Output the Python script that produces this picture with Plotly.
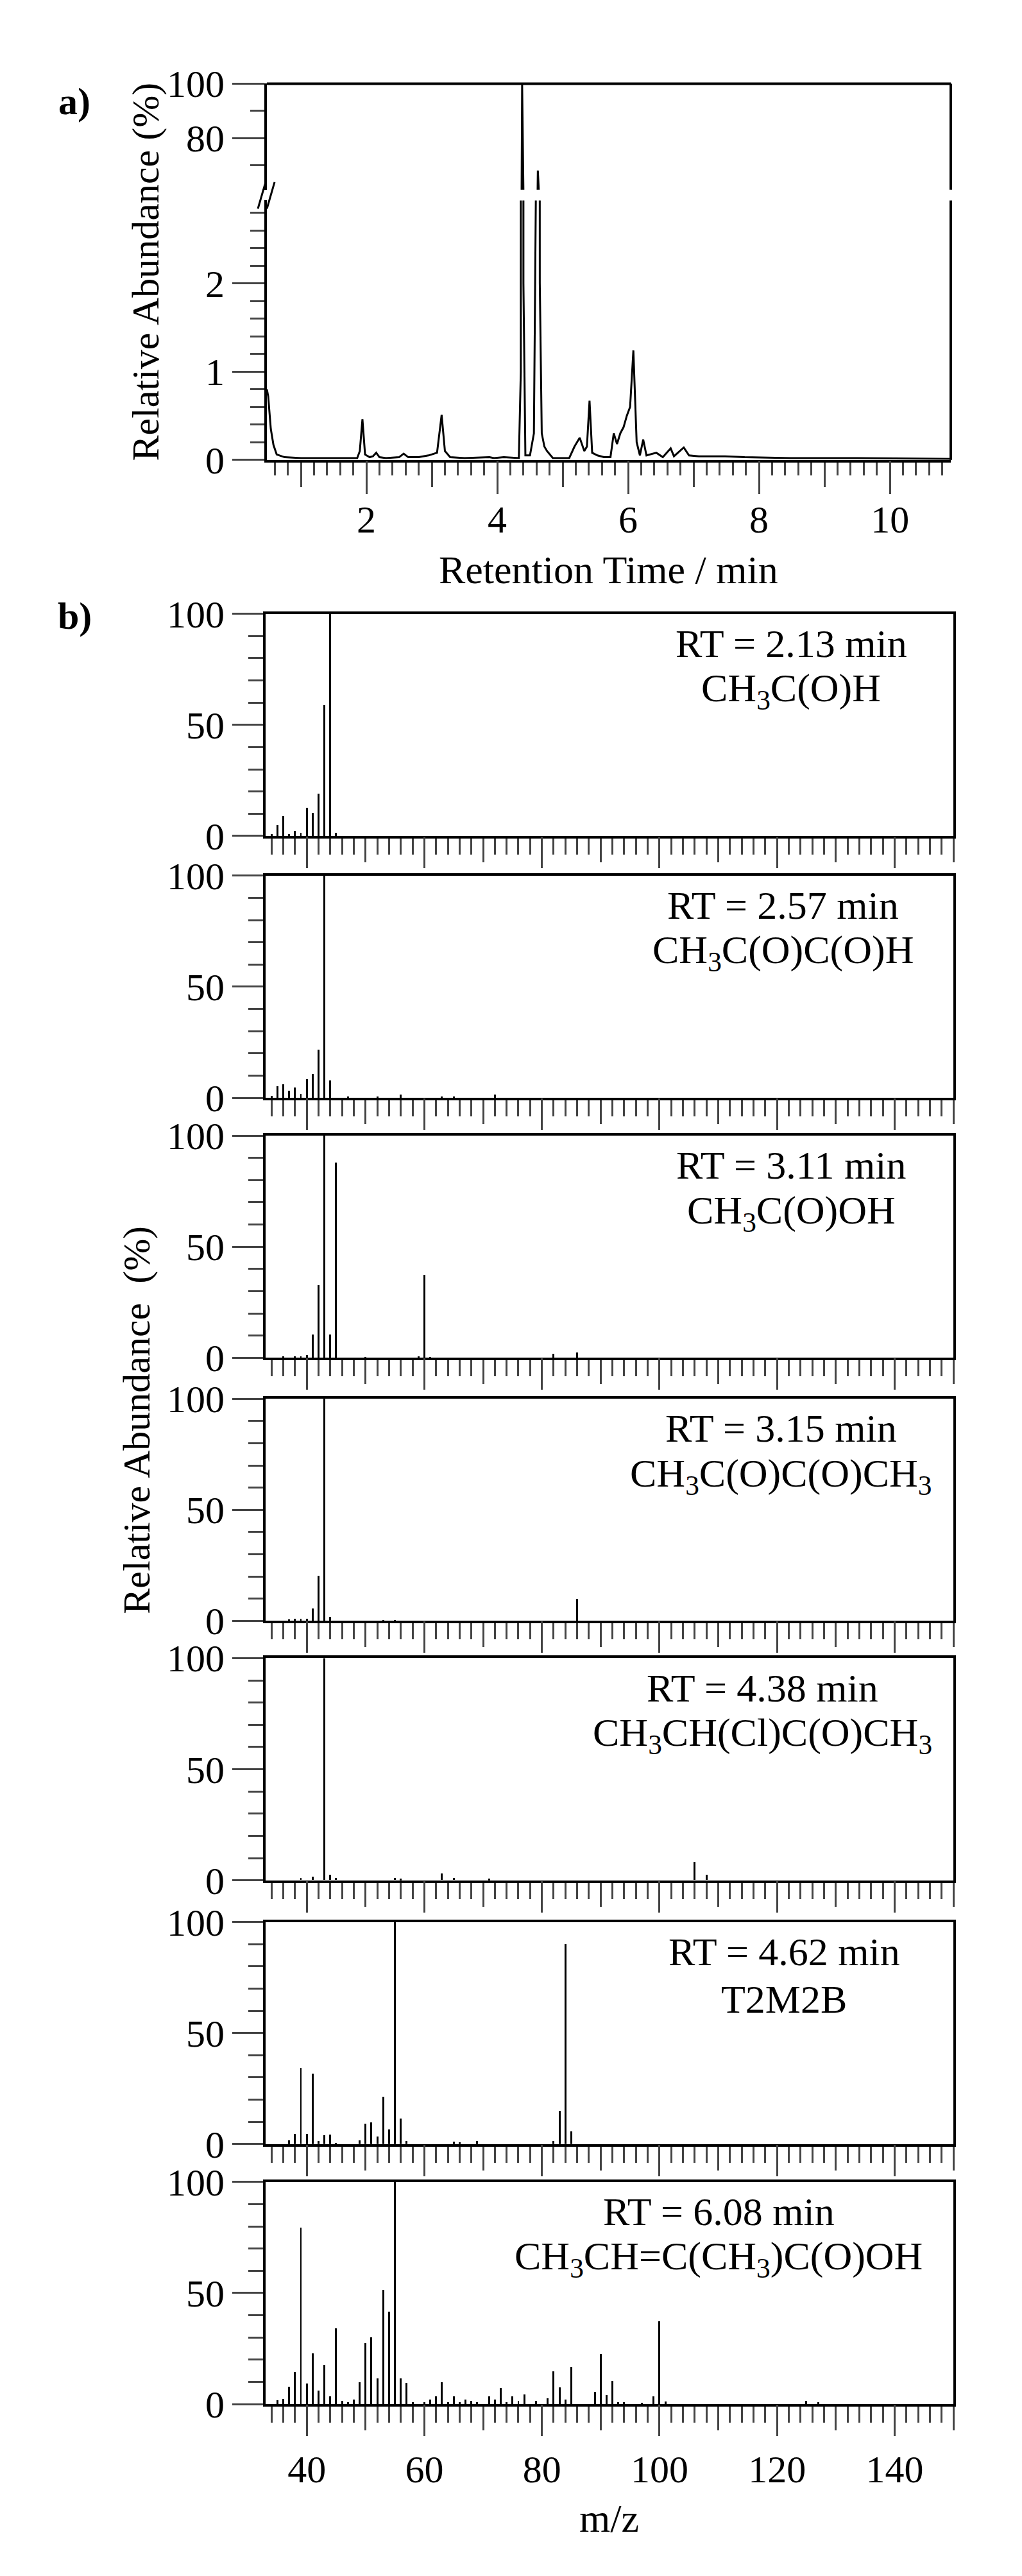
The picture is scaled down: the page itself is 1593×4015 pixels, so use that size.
import plotly.graph_objects as go

W, H = 1593, 4015
FONT = "Liberation Serif"

# chromatogram (panel a)
rt_time = [0.48, 0.50, 0.54, 0.58, 0.63, 0.75, 1.0, 1.5, 1.86, 1.90, 1.94, 1.98, 2.05, 2.10, 2.15, 2.20,
           2.30, 2.50, 2.57, 2.64, 2.80, 2.95, 3.00, 3.08, 3.15, 3.20, 3.28, 3.50, 3.88, 3.95, 4.10, 4.33,
           4.36, 4.38, 4.40, 4.43, 4.50, 4.56, 4.59, 4.62, 4.65, 4.68, 4.72, 4.76, 4.85, 5.10, 5.18, 5.26,
           5.33, 5.37, 5.41, 5.45, 5.53, 5.63, 5.73, 5.78, 5.83, 5.88, 5.93, 5.98, 6.03, 6.08, 6.13, 6.18,
           6.23, 6.28, 6.43, 6.53, 6.65, 6.70, 6.85, 6.93, 7.08, 7.48, 7.78, 8.48, 9.5, 10.93]
rt_abund = [0.80, 0.72, 0.35, 0.17, 0.06, 0.03, 0.02, 0.02, 0.02, 0.10, 0.46, 0.06, 0.03, 0.04, 0.08, 0.03,
            0.02, 0.03, 0.07, 0.03, 0.03, 0.05, 0.06, 0.08, 0.51, 0.10, 0.03, 0.02, 0.03, 0.02, 0.03, 0.02,
            1.0, 100, 2.0, 0.05, 0.05, 0.3, 3.0, 68, 2.0, 0.30, 0.15, 0.10, 0.02, 0.02, 0.15, 0.25,
            0.10, 0.15, 0.67, 0.08, 0.05, 0.03, 0.03, 0.30, 0.18, 0.30, 0.37, 0.50, 0.60, 1.24, 0.20, 0.05,
            0.23, 0.05, 0.08, 0.03, 0.13, 0.04, 0.14, 0.05, 0.04, 0.04, 0.03, 0.02, 0.02, 0.01]

# mass spectra (panel b)
rt_labels = ["RT = 2.13 min", "RT = 2.57 min", "RT = 3.11 min", "RT = 3.15 min",
             "RT = 4.38 min", "RT = 4.62 min", "RT = 6.08 min"]
names = ["CH<sub>3</sub>C(O)H", "CH<sub>3</sub>C(O)C(O)H", "CH<sub>3</sub>C(O)OH",
         "CH<sub>3</sub>C(O)C(O)CH<sub>3</sub>", "CH<sub>3</sub>CH(Cl)C(O)CH<sub>3</sub>",
         "T2M2B", "CH<sub>3</sub>CH=C(CH<sub>3</sub>)C(O)OH"]

mz1 = [34, 35, 36, 37, 38, 39, 40, 41, 42, 43, 44, 45]
ab1 = [1, 5, 9, 1, 2.5, 1.5, 12.8, 10.5, 19, 59, 100, 1.5]
mz2 = [34, 35, 36, 37, 38, 39, 40, 41, 42, 43, 44, 47, 52, 56, 63, 65, 72]
ab2 = [1, 5.4, 6, 3.2, 4.6, 1.7, 8.3, 10.7, 21.7, 100, 7.8, 0.5, 0.5, 1.5, 0.5, 0.5, 1.5]
mz3 = [36, 38, 39, 40, 41, 42, 43, 44, 45, 50, 59, 60, 61, 82, 86]
ab3 = [0.5, 0.5, 0.5, 1.3, 10.5, 32.6, 100, 10.5, 88, 0.3, 0.5, 37.2, 0.3, 1.8, 2.5]
mz4 = [37, 38, 39, 40, 41, 42, 43, 44, 53, 55, 86]
ab4 = [0.6, 0.8, 0.8, 0.8, 5.6, 20.2, 100, 1.9, 0.4, 0.4, 9.8]
mz5 = [39, 41, 43, 44, 45, 55, 56, 63, 65, 71, 106, 108]
ab5 = [1, 1.5, 100, 2.3, 1, 1, 0.5, 3, 1, 0.5, 8.1, 2.3]
mz6 = [37, 38, 39, 40, 41, 42, 43, 44, 45, 49, 50, 51, 52, 53, 54, 55, 56, 57, 65, 66, 69, 82, 83, 84, 85]
ab6 = [1.9, 4.8, 34.3, 4.8, 31.8, 1.5, 4, 4.4, 0.5, 1.9, 9.2, 9.9, 3.4, 21.3, 6.7, 100, 11.5, 1.5,
       1.3, 1, 1.5, 1.5, 15, 90.2, 5.8]
mz7 = [35, 36, 37, 38, 39, 40, 41, 42, 43, 44, 45, 46, 47, 48, 49, 50, 51, 52, 53, 54, 55, 56, 57, 58,
       60, 61, 62, 63, 64, 65, 66, 67, 68, 69, 71, 72, 73, 74, 75, 76, 77, 79, 81, 82, 83, 84, 85, 89,
       90, 91, 92, 93, 94, 97, 99, 100, 101, 125, 127]
ab7 = [1.7, 2.5, 7.9, 14.5, 79.4, 9.4, 23, 6, 17.8, 3.5, 34.2, 1.5, 1, 2, 10, 27.5, 30, 11.7, 51.6, 41.6,
       100, 11.7, 9.7, 1, 1, 2, 3.4, 10, 1, 3.5, 1, 2, 1.5, 1, 3.5, 2, 7.2, 1, 3.6, 1.5, 4.4, 1.5, 2.8,
       14.8, 7.5, 2, 16.9, 5.5, 22.5, 4, 10.5, 1, 1, 0.5, 3.5, 37.3, 1.2, 1.5, 1]
spectra = [(mz1, ab1), (mz2, ab2), (mz3, ab3), (mz4, ab4), (mz5, ab5), (mz6, ab6), (mz7, ab7)]


def px(x):
    return x / W


def py(y):
    return 1 - y / H


def label(text, x, y, size=62, angle=0):
    return dict(text=text, x=px(x), y=py(y), xref="paper", yref="paper", xanchor="center",
                yanchor="middle", textangle=angle, showarrow=False,
                font=dict(size=size, family=FONT, color="black"))


fig = go.Figure()
LW = 4
tickfont = dict(family=FONT, size=60, color="black")
layout = dict(width=W, height=H, margin=dict(l=0, r=0, t=0, b=0),
              plot_bgcolor="white", paper_bgcolor="white", showlegend=False,
              font=dict(family=FONT, color="black"), bargap=0)
shapes, annotations = [], []

# ---- panel a ----
XL, XR = 408, 1474
a_xrange = [0.48, 10.93]
layout["xaxis"] = dict(domain=[px(XL), px(XR)], range=a_xrange, anchor="y", showline=True,
                       linewidth=LW, linecolor="black", ticks="outside", ticklen=38, tickwidth=3,
                       dtick=1, tick0=0, showticklabels=False, showgrid=False, zeroline=False,
                       minor=dict(ticks="outside", ticklen=20, tickwidth=3, dtick=0.2, tick0=0))
layout["xaxis2"] = dict(overlaying="x", anchor="y", range=a_xrange, ticks="outside", ticklen=52,
                        tickwidth=3, dtick=2, tick0=0, tickfont=tickfont, showgrid=False,
                        zeroline=False, showline=False, ticklabelstandoff=-12)
layout["yaxis"] = dict(domain=[py(688), py(277)], range=[0, 2.94], anchor="x", showline=True,
                       linewidth=LW, linecolor="black", ticks="outside", ticklen=50, tickwidth=3,
                       dtick=1, tickfont=tickfont, showgrid=False, zeroline=False,
                       minor=dict(ticks="outside", ticklen=22, tickwidth=3, dtick=0.2))
layout["yaxis2"] = dict(domain=[py(260), py(92)], range=[60.9, 100], anchor="x", showline=True,
                        linewidth=LW, linecolor="black", ticks="outside", ticklen=50, tickwidth=3,
                        tickvals=[80, 100], tickfont=tickfont, showgrid=False, zeroline=False,
                        minor=dict(ticks="outside", ticklen=22, tickwidth=3, tickvals=[70, 90]))
fig.add_trace(go.Scatter(x=rt_time, y=rt_abund, mode="lines", line=dict(color="black", width=3),
                         xaxis="x", yaxis="y"))
fig.add_trace(go.Scatter(x=rt_time, y=rt_abund, mode="lines", line=dict(color="black", width=3),
                         xaxis="x", yaxis="y2"))
# invisible copy so the overlay tick axis is drawn
fig.add_trace(go.Scatter(x=rt_time, y=rt_abund, mode="markers", marker=dict(opacity=0),
                         hoverinfo="skip", xaxis="x2", yaxis="y"))
# frame: top line, right line with break
shapes.append(dict(type="line", xref="paper", yref="paper", x0=px(XL), x1=px(XR), y0=py(92), y1=py(92),
                   line=dict(color="black", width=LW)))
shapes.append(dict(type="line", xref="paper", yref="paper", x0=px(XR), x1=px(XR), y0=py(92), y1=py(260),
                   line=dict(color="black", width=LW)))
shapes.append(dict(type="line", xref="paper", yref="paper", x0=px(XR), x1=px(XR), y0=py(277), y1=py(688),
                   line=dict(color="black", width=LW)))
for dx in (-8, 6):
    shapes.append(dict(type="line", xref="paper", yref="paper", x0=px(XL + dx - 6), x1=px(XL + dx + 6),
                       y0=py(290), y1=py(248), line=dict(color="black", width=3)))
annotations.append(label("<b>a)</b>", 108, 120, 60))
annotations.append(label("Relative Abundance (%)", 219, 390, 60, -90))
annotations.append(label("Retention Time / min", (XL + XR) / 2, 862))

# ---- panel b ----
BL, BR = 406, 1478
b_xrange = [33, 150]
tops = [932, 1347, 1759, 2176, 2587, 3005, 3417]
PH = 352
text_cx = [1225, 1212, 1225, 1209, 1180, 1214, 1112]
for i, (mz, ab) in enumerate(spectra):
    xa, xb, ya = 3 + 2 * i, 4 + 2 * i, 3 + i
    top, bot = tops[i], tops[i] + PH
    last = i == len(spectra) - 1
    layout[f"xaxis{xa}"] = dict(domain=[px(BL), px(BR)], range=b_xrange, anchor=f"y{ya}",
                                showline=True, mirror=True, linewidth=LW, linecolor="black",
                                ticks="outside", ticklen=37, tickwidth=3, dtick=10, tick0=0,
                                showticklabels=False, showgrid=False, zeroline=False,
                                minor=dict(ticks="outside", ticklen=25, tickwidth=3, dtick=2, tick0=0))
    layout[f"xaxis{xb}"] = dict(overlaying=f"x{xa}", anchor=f"y{ya}", range=b_xrange, ticks="outside",
                                ticklen=49, tickwidth=3, dtick=20, tick0=0, showticklabels=last,
                                tickfont=tickfont, showgrid=False, zeroline=False, showline=False,
                                ticklabelstandoff=0)
    layout[f"yaxis{ya}"] = dict(domain=[py(bot), py(top)], range=[0, 100], anchor=f"x{xa}",
                                showline=True, mirror=True, linewidth=LW, linecolor="black",
                                ticks="outside", ticklen=48, tickwidth=3, dtick=50,
                                tickfont=tickfont, showgrid=False, zeroline=False,
                                minor=dict(ticks="outside", ticklen=23, tickwidth=3, dtick=10))
    fig.add_trace(go.Bar(x=mz, y=ab, width=0.32, marker=dict(color="black", line=dict(width=0)),
                         xaxis=f"x{xa}", yaxis=f"y{ya}"))
    fig.add_trace(go.Scatter(x=mz, y=ab, mode="markers", marker=dict(opacity=0), hoverinfo="skip",
                             xaxis=f"x{xb}", yaxis=f"y{ya}"))
    annotations.append(label(rt_labels[i], text_cx[i], top + 47))
    annotations.append(label(names[i], text_cx[i], top + 122))

annotations.append(label("<b>b)</b>", 108, 935, 60))
annotations.append(label("Relative Abundance  (%)", 205, 2210, 60, -90))
annotations.append(label("m/z", (BL + BR) / 2, 3950))

layout["shapes"] = shapes
layout["annotations"] = annotations
fig.update_layout(**layout)
fig.write_html("out.html")
